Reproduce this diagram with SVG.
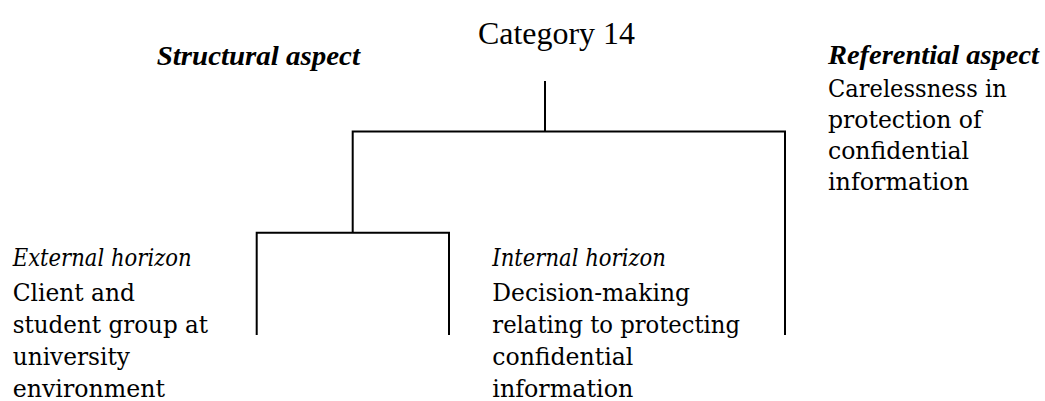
<svg xmlns="http://www.w3.org/2000/svg" width="1045" height="401" viewBox="0 0 1045 401">
  <style>
    .body { font-family: "DejaVu Serif", "Liberation Serif", serif; font-size: 24px; fill: #000; }
    .head { font-family: "DejaVu Serif", "Liberation Serif", serif; font-size: 24px; font-style: italic; fill: #000; }
    .aspect { font-family: "Liberation Serif", "Times New Roman", serif; font-size: 28px; font-style: italic; font-weight: bold; fill: #000; }
    .title { font-family: "Liberation Serif", "Times New Roman", serif; font-size: 32px; fill: #000; }
    .wire { fill: none; stroke: #000; stroke-width: 2; stroke-linejoin: miter; stroke-linecap: butt; }
  </style>
  <rect width="1045" height="401" fill="#fff"/>

  <g id="connectors">
    <path class="wire" d="M545,81 V131.5"/>
    <path class="wire" d="M352.7,232.7 V131.5 H785 V335"/>
    <path class="wire" d="M256.7,335 V232.7 H449 V335"/>
  </g>

  <g id="category">
    <text class="title" x="478" y="44" textLength="157" lengthAdjust="spacingAndGlyphs">Category 14</text>
  </g>

  <g id="structural-aspect">
    <text class="aspect" x="156.7" y="64.5" textLength="203.3" lengthAdjust="spacingAndGlyphs">Structural aspect</text>
  </g>

  <g id="referential-aspect">
    <text class="aspect" x="828" y="63.5" textLength="211" lengthAdjust="spacingAndGlyphs">Referential aspect</text>
    <text class="body" x="828" y="96.5" textLength="178.7" lengthAdjust="spacingAndGlyphs">Carelessness in</text>
    <text class="body" x="828" y="127.5" textLength="153.7" lengthAdjust="spacingAndGlyphs">protection of</text>
    <text class="body" x="828" y="158.5" textLength="141" lengthAdjust="spacingAndGlyphs">confidential</text>
    <text class="body" x="828" y="190" textLength="141" lengthAdjust="spacingAndGlyphs">information</text>
  </g>

  <g id="external-horizon">
    <text class="head" x="12.7" y="265.5" textLength="179" lengthAdjust="spacingAndGlyphs">External horizon</text>
    <text class="body" x="12.7" y="301" textLength="122.3" lengthAdjust="spacingAndGlyphs">Client and</text>
    <text class="body" x="12.7" y="333" textLength="195.3" lengthAdjust="spacingAndGlyphs">student group at</text>
    <text class="body" x="12.7" y="365" textLength="117.3" lengthAdjust="spacingAndGlyphs">university</text>
    <text class="body" x="12.7" y="397" textLength="152.3" lengthAdjust="spacingAndGlyphs">environment</text>
  </g>

  <g id="internal-horizon">
    <text class="head" x="492.3" y="265.5" textLength="173.7" lengthAdjust="spacingAndGlyphs">Internal horizon</text>
    <text class="body" x="492.3" y="301" textLength="197.7" lengthAdjust="spacingAndGlyphs">Decision-making</text>
    <text class="body" x="492.3" y="333" textLength="247.7" lengthAdjust="spacingAndGlyphs">relating to protecting</text>
    <text class="body" x="492.3" y="365" textLength="141" lengthAdjust="spacingAndGlyphs">confidential</text>
    <text class="body" x="492.3" y="397" textLength="141" lengthAdjust="spacingAndGlyphs">information</text>
  </g>
</svg>
